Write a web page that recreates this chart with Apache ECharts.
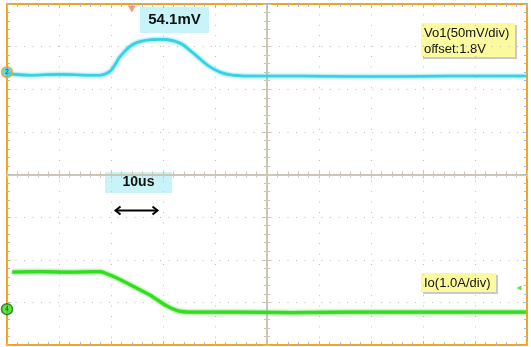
<!doctype html>
<html lang="en">
<head>
    <meta charset="UTF-8">
    <title>Vo1 / Io load step</title>
    <script src="https://cdn.jsdelivr.net/npm/echarts@6/dist/echarts.min.js"></script>
    <style>
        html, body { margin: 0; padding: 0; background: #fff; }
        #chart { width: 531px; height: 347px; }
    </style>
</head>
<body>
<div id="chart"></div>
<script>
    // time in divisions (centre = 0), amplitude in divisions (centre = 0)
    const vo1Time = [-4.96, -4.56, -3.98, -3.40, -3.21, -3.02, -2.92, -2.83, -2.58, -2.25, -2.0, -1.67, -1.42, -1.15, -0.90, -0.65, -0.13, 0.63, 1.60, 2.56, 3.52, 4.48, 4.98]
    const vo1Level = [2.36, 2.33, 2.35, 2.33, 2.33, 2.42, 2.58, 2.76, 3.05, 3.16, 3.17, 3.08, 2.85, 2.57, 2.40, 2.33, 2.31, 2.31, 2.30, 2.30, 2.31, 2.31, 2.31]
    const ioTime = [-4.90, -4.37, -3.79, -3.21, -3.12, -2.88, -2.58, -2.25, -1.92, -1.67, -1.29, -0.5, 0.5, 1.5, 2.5, 3.5, 4.5, 4.98]
    const ioLevel = [-2.29, -2.28, -2.29, -2.28, -2.31, -2.43, -2.62, -2.83, -3.09, -3.21, -3.23, -3.23, -3.24, -3.23, -3.23, -3.23, -3.23, -3.23]
    const vo1Ref = 2.40      // channel marker on the left edge
    const ioRef = -3.16
    const trigTime = -2.60
    const trigLevel = -2.66

    const orange = '#f5a21e'
    const cyan = '#33d2e4'
    const green = '#35dc22'
    const tickGray = '#b9b9b9'
    const crossGray = '#cbc6b6'

    const zip = (xs, ys) => xs.map((x, i) => [x, ys[i]])

    const gridBox = {left: 7, top: 4, width: 520, height: 341}

    function frameX(grid, pos, split) {
        return {
            type: 'value', gridIndex: grid, position: pos, min: -5, max: 5, interval: 1,
            axisLine: {show: true, onZero: false, lineStyle: {color: orange, width: 2}},
            axisTick: {show: true, inside: true, length: 4, lineStyle: {color: tickGray}},
            minorTick: {show: true, splitNumber: 5, length: 3, lineStyle: {color: tickGray}},
            axisLabel: {show: false},
            splitLine: {show: split, lineStyle: {color: '#bdbdbd', type: [1, 9.4], width: 1}}
        }
    }
    function frameY(grid, pos, split) {
        return {
            type: 'value', gridIndex: grid, position: pos, min: -4, max: 4, interval: 1,
            axisLine: {show: true, onZero: false, lineStyle: {color: orange, width: 2}},
            axisTick: {show: true, inside: true, length: 4, lineStyle: {color: tickGray}},
            minorTick: {show: true, splitNumber: 5, length: 3, lineStyle: {color: tickGray}},
            axisLabel: {show: false},
            splitLine: {show: split, lineStyle: {color: '#bdbdbd', type: [1, 7.5], width: 1}}
        }
    }
    // centre crosshair, ticks on both sides -> two grids
    function crossX(grid, inside) {
        return {
            type: 'value', gridIndex: grid, min: -5, max: 5, interval: 1,
            axisLine: {show: true, onZero: true, lineStyle: {color: crossGray, width: 2}},
            axisTick: {show: true, inside: inside, length: 4, lineStyle: {color: crossGray}},
            minorTick: {show: true, splitNumber: 5, length: 3, lineStyle: {color: crossGray}},
            axisLabel: {show: false}, splitLine: {show: false}
        }
    }
    function crossY(grid, inside) {
        return {
            type: 'value', gridIndex: grid, min: -4, max: 4, interval: 1,
            axisLine: {show: true, onZero: true, lineStyle: {color: crossGray, width: 2}},
            axisTick: {show: true, inside: inside, length: 4, lineStyle: {color: crossGray}},
            minorTick: {show: true, splitNumber: 5, length: 3, lineStyle: {color: crossGray}},
            axisLabel: {show: false}, splitLine: {show: false}
        }
    }

    const chart = echarts.init(document.getElementById('chart'))

    const yellowBox = (x, y, w, h, text) => ({
        type: 'group', left: x, top: y,
        children: [
            {type: 'rect', shape: {x: 2, y: 2, width: w, height: h}, style: {fill: '#c9c9c9'}},
            {type: 'rect', shape: {x: 0, y: 0, width: w, height: h}, style: {fill: '#fbfa9e'}},
            {type: 'text', x: 3, y: 2, style: {text: text, fill: '#111', font: '13px "Liberation Sans", Arial', lineHeight: 16}}
        ]
    })
    const cyanBox = (x, y, w, h, text, size) => ({
        type: 'group', left: x, top: y,
        children: [
            {type: 'rect', shape: {x: 0, y: 0, width: w, height: h}, style: {fill: '#c8f4f9'}},
            {type: 'text', x: w / 2, y: h / 2, style: {text: text, fill: '#111', font: 'bold ' + size + 'px "Liberation Sans", Arial', align: 'center', verticalAlign: 'middle'}}
        ]
    })

    const option = {
        animation: false,
        backgroundColor: '#fff',
        grid: [gridBox, gridBox, gridBox, gridBox].map(g => Object.assign({}, g)),
        xAxis: [frameX(0, 'bottom', true), frameX(1, 'top', false), crossX(2, true), crossX(3, false)],
        yAxis: [frameY(0, 'left', true), frameY(1, 'right', false), crossY(2, true), crossY(3, false)],
        series: [
            {
                type: 'line', xAxisIndex: 0, yAxisIndex: 0, data: zip(vo1Time, vo1Level),
                showSymbol: false, smooth: 0.35, z: 5,
                lineStyle: {color: cyan, width: 2.6, shadowColor: cyan, shadowBlur: 3}
            },
            {
                type: 'line', xAxisIndex: 0, yAxisIndex: 0, data: zip(ioTime, ioLevel),
                showSymbol: false, smooth: 0.3, z: 5,
                lineStyle: {color: green, width: 3.2, shadowColor: green, shadowBlur: 3}
            },
            {
                type: 'scatter', xAxisIndex: 0, yAxisIndex: 0, clip: false, z: 10,
                symbol: 'circle', symbolSize: 11,
                data: [
                    {value: [-5, vo1Ref], itemStyle: {color: cyan, borderColor: orange, borderWidth: 1.5}, label: {formatter: '2'}},
                    {value: [-5, ioRef], itemStyle: {color: green, borderColor: '#1f6a14', borderWidth: 1.5}, label: {formatter: '4'}}
                ],
                label: {show: true, position: 'inside', fontSize: 7, color: '#0a3a10'}
            },
            {
                type: 'scatter', xAxisIndex: 0, yAxisIndex: 0, clip: false, z: 10,
                data: [
                    {value: [trigTime, 4], symbol: 'triangle', symbolRotate: 180, symbolSize: [8, 7], symbolOffset: [0, 5], itemStyle: {color: '#f47d6c'}},
                    {value: [5, trigLevel], symbol: 'triangle', symbolRotate: 90, symbolSize: [5, 5], symbolOffset: [-8, 0], itemStyle: {color: green}}
                ]
            }
        ],
        graphic: [
            cyanBox(140, 7, 69, 26, '54.1mV', 15),
            yellowBox(421, 23, 94, 34, 'Vo1(50mV/div)\noffset:1.8V'),
            cyanBox(105, 172, 67, 21, '10us', 14),
            {
                type: 'group', left: 113, top: 204,
                children: [
                    {type: 'line', shape: {x1: 1, y1: 5, x2: 43, y2: 5}, style: {stroke: '#000', lineWidth: 2}},
                    {type: 'polyline', shape: {points: [[6, 1], [1, 5], [6, 9]]}, style: {stroke: '#000', lineWidth: 2, fill: null}},
                    {type: 'polyline', shape: {points: [[38, 1], [43, 5], [38, 9]]}, style: {stroke: '#000', lineWidth: 2, fill: null}}
                ]
            },
            yellowBox(421, 273, 75, 19, 'Io(1.0A/div)')
        ]
    }
    chart.setOption(option)
</script>
</body>
</html>
